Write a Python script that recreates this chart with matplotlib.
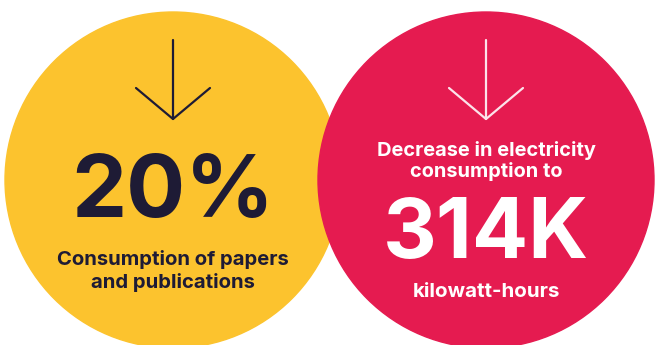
import matplotlib.pyplot as plt
from matplotlib.patches import Circle

# two stat bubbles, left to right
values = ["20%", "314K"]
captions_above = ["", "Decrease in electricity\nconsumption to"]
captions_below = ["Consumption of papers\nand publications", "kilowatt-hours"]
bubble_colors = ["#FCC32E", "#E51B50"]
text_colors = ["#1E1B35", "#FFFFFF"]
arrow_colors = ["#1E1B35", "#FCE3EA"]

# layout in pixel units of the 656x345 canvas
centers_x = [173, 486]
center_y = 180
radius = 168

plt.rcParams['font.family'] = ['Inter', 'DejaVu Sans']

fig = plt.figure(figsize=(6.56, 3.45), dpi=100)
ax = fig.add_axes([0, 0, 1, 1])
ax.set_xlim(0, 656)
ax.set_ylim(345, 0)
ax.set_aspect('equal')
ax.axis('off')

for i, cx in enumerate(centers_x):
    ax.add_patch(Circle((cx, center_y), radius, color=bubble_colors[i], zorder=i + 1))

    # down arrow
    z = i + 1.5
    ax.plot([cx, cx], [40, 119], color=arrow_colors[i], lw=1.6, solid_capstyle='round', zorder=z)
    ax.plot([cx - 37, cx, cx + 37], [88, 119, 88], color=arrow_colors[i], lw=1.6,
            solid_joinstyle='round', solid_capstyle='round', zorder=z)

# left bubble
ax.text(centers_x[0], 217, values[0], ha='center', va='baseline', fontsize=63,
        fontweight='bold', color=text_colors[0], zorder=5)
ax.text(centers_x[0], 288, captions_below[0], ha='center', va='baseline', fontsize=14.6,
        fontweight='bold', color=text_colors[0], linespacing=1.25, zorder=5)

# right bubble
ax.text(centers_x[1], 177, captions_above[1], ha='center', va='baseline', fontsize=14.4,
        fontweight='bold', color=text_colors[1], linespacing=1.15, zorder=5)
ax.text(centers_x[1], 258, values[1], ha='center', va='baseline', fontsize=60,
        fontweight='bold', color=text_colors[1], zorder=5)
ax.text(centers_x[1], 297, captions_below[1], ha='center', va='baseline', fontsize=14.8,
        fontweight='bold', color=text_colors[1], zorder=5)

fig.savefig('out.png', dpi=100, facecolor='white')
